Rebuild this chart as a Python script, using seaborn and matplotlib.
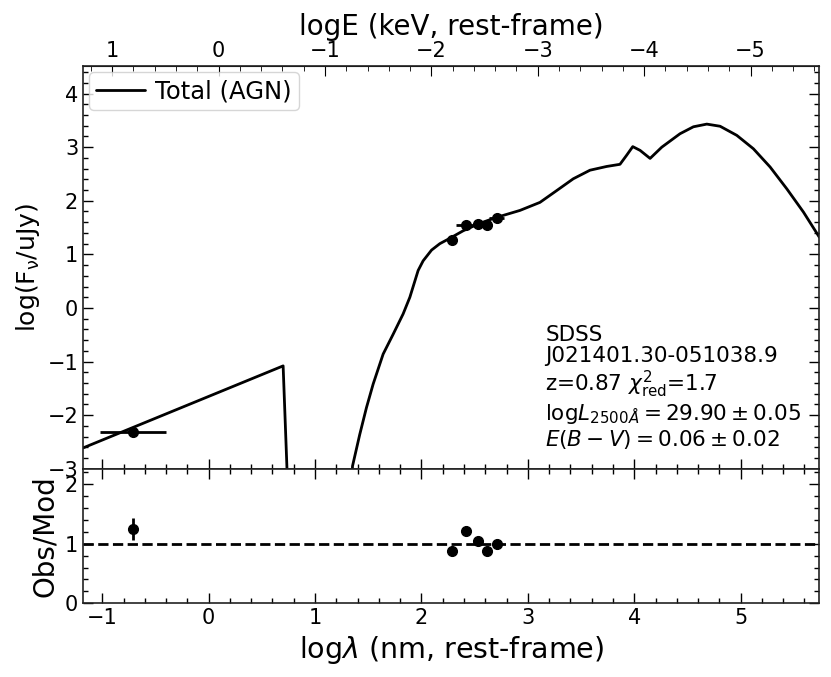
import numpy as np
import pandas as pd
import matplotlib
matplotlib.use("Agg")
import matplotlib.pyplot as plt
import seaborn as sns
from matplotlib.ticker import MultipleLocator

# model SED (total AGN)
model_loglam = [-1.18, 0.70, 0.74, 0.76, 1.30, 1.352, 1.42, 1.483, 1.546, 1.64, 1.734,
                1.828, 1.891, 1.969, 2.016, 2.095, 2.173, 2.267, 2.392, 2.549, 2.706,
                2.926, 3.114, 3.271, 3.427, 3.584, 3.741, 3.866, 3.929, 3.986, 4.055,
                4.149, 4.259, 4.43, 4.556, 4.682, 4.807, 4.964, 5.12, 5.277, 5.435,
                5.59, 5.74]
model_flux = [-2.61, -1.08, -3.2, -6.0, -6.0, -2.95, -2.36, -1.86, -1.42, -0.86, -0.49,
              -0.11, 0.20, 0.70, 0.88, 1.08, 1.20, 1.30, 1.44, 1.58, 1.69,
              1.82, 1.97, 2.19, 2.41, 2.57, 2.64, 2.68, 2.85, 3.01, 2.94,
              2.79, 3.00, 3.25, 3.38, 3.43, 3.39, 3.22, 2.97, 2.63, 2.22,
              1.79, 1.32]

# photometry
obs_loglam = [-0.715, 2.286, 2.415, 2.528, 2.612, 2.709]
obs_flux = [-2.31, 1.26, 1.55, 1.57, 1.55, 1.67]
obs_xerr = [0.31, 0.02, 0.09, 0.02, 0.02, 0.07]
obs_yerr = [0.05, 0.03, 0.03, 0.03, 0.03, 0.03]

# residuals obs/model
res_val = [1.25, 0.87, 1.22, 1.05, 0.87, 1.00]
res_err = [0.19, 0.06, 0.08, 0.06, 0.05, 0.08]

info_text = ("SDSS\nJ021401.30-051038.9\n"
             "z=0.87 $\\chi^2_{\\rm red}$=1.7\n"
             "log$L_{2500Å} = 29.90 \\pm 0.05$\n"
             "$E(B-V) = 0.06 \\pm 0.02$")

sns.set_style("ticks")
plt.rcParams["font.family"] = ["DejaVu Sans"]
plt.rcParams["xtick.direction"] = "in"
plt.rcParams["ytick.direction"] = "in"
plt.rcParams["xtick.labelsize"] = 15
plt.rcParams["ytick.labelsize"] = 15
for key in ["text.color", "axes.labelcolor", "xtick.color", "ytick.color", "axes.edgecolor"]:
    plt.rcParams[key] = "black"

model_df = pd.DataFrame({"loglam": model_loglam, "flux": model_flux})

fig, (ax, axr) = plt.subplots(2, 1, figsize=(8.31, 6.77), dpi=100, sharex=True,
                              gridspec_kw={"height_ratios": [3, 1], "hspace": 0})
fig.subplots_adjust(left=0.100, right=0.986, top=0.903, bottom=0.109)

sns.lineplot(data=model_df, x="loglam", y="flux", sort=False, color="black",
             linewidth=2, label="Total (AGN)", ax=ax)
ax.errorbar(obs_loglam, obs_flux, xerr=obs_xerr, yerr=obs_yerr, fmt="o",
            color="black", markersize=7, elinewidth=2, capsize=0)

ax.set_xlim(-1.18, 5.74)
ax.set_ylim(-3, 4.52)
ax.set_ylabel("log(F$_{\\mathrm{ν}}$/uJy)", fontsize=18)
ax.set_xlabel("")
ax.yaxis.set_major_locator(MultipleLocator(1))
ax.yaxis.set_minor_locator(MultipleLocator(0.2))
ax.xaxis.set_major_locator(MultipleLocator(1))
ax.xaxis.set_minor_locator(MultipleLocator(0.2))
ax.tick_params(which="both", right=True, labelbottom=False)
ax.tick_params(which="major", length=7, width=1)
ax.tick_params(which="minor", length=3.5, width=1)
ax.legend(loc="upper left", fontsize=17.5, handlelength=2, borderpad=0.3,
          borderaxespad=0.25, handletextpad=0.4)
ax.text(0.628, 0.357, info_text, transform=ax.transAxes, fontsize=15.5,
        va="top", ha="left", linespacing=1.1)

top = ax.secondary_xaxis("top", functions=(lambda x: 0.0934 - x, lambda e: 0.0934 - e))
top.set_xlabel("logE (keV, rest-frame)", fontsize=20)
top.xaxis.set_major_locator(MultipleLocator(1))
top.xaxis.set_minor_locator(MultipleLocator(0.2))
top.tick_params(which="major", direction="in", length=7, labelsize=15)
top.tick_params(which="minor", direction="in", length=3.5)

axr.errorbar(obs_loglam, res_val, yerr=res_err, fmt="o", color="black",
             markersize=7, elinewidth=2, capsize=0)
axr.axhline(1, color="black", linestyle="--", linewidth=2)
axr.set_ylim(0, 2.26)
axr.set_xlabel("log$\\lambda$ (nm, rest-frame)", fontsize=20.5)
axr.set_ylabel("Obs/Mod", fontsize=20)
axr.yaxis.set_major_locator(MultipleLocator(1))
axr.yaxis.set_minor_locator(MultipleLocator(0.2))
axr.tick_params(which="both", top=True, right=True)
axr.tick_params(which="major", length=7, width=1)
axr.tick_params(which="minor", length=3.5, width=1)

for a in (ax, axr):
    for s in a.spines.values():
        s.set_linewidth(1.2)
        s.set_color("#222222")

fig.savefig("out.png", dpi=100)
